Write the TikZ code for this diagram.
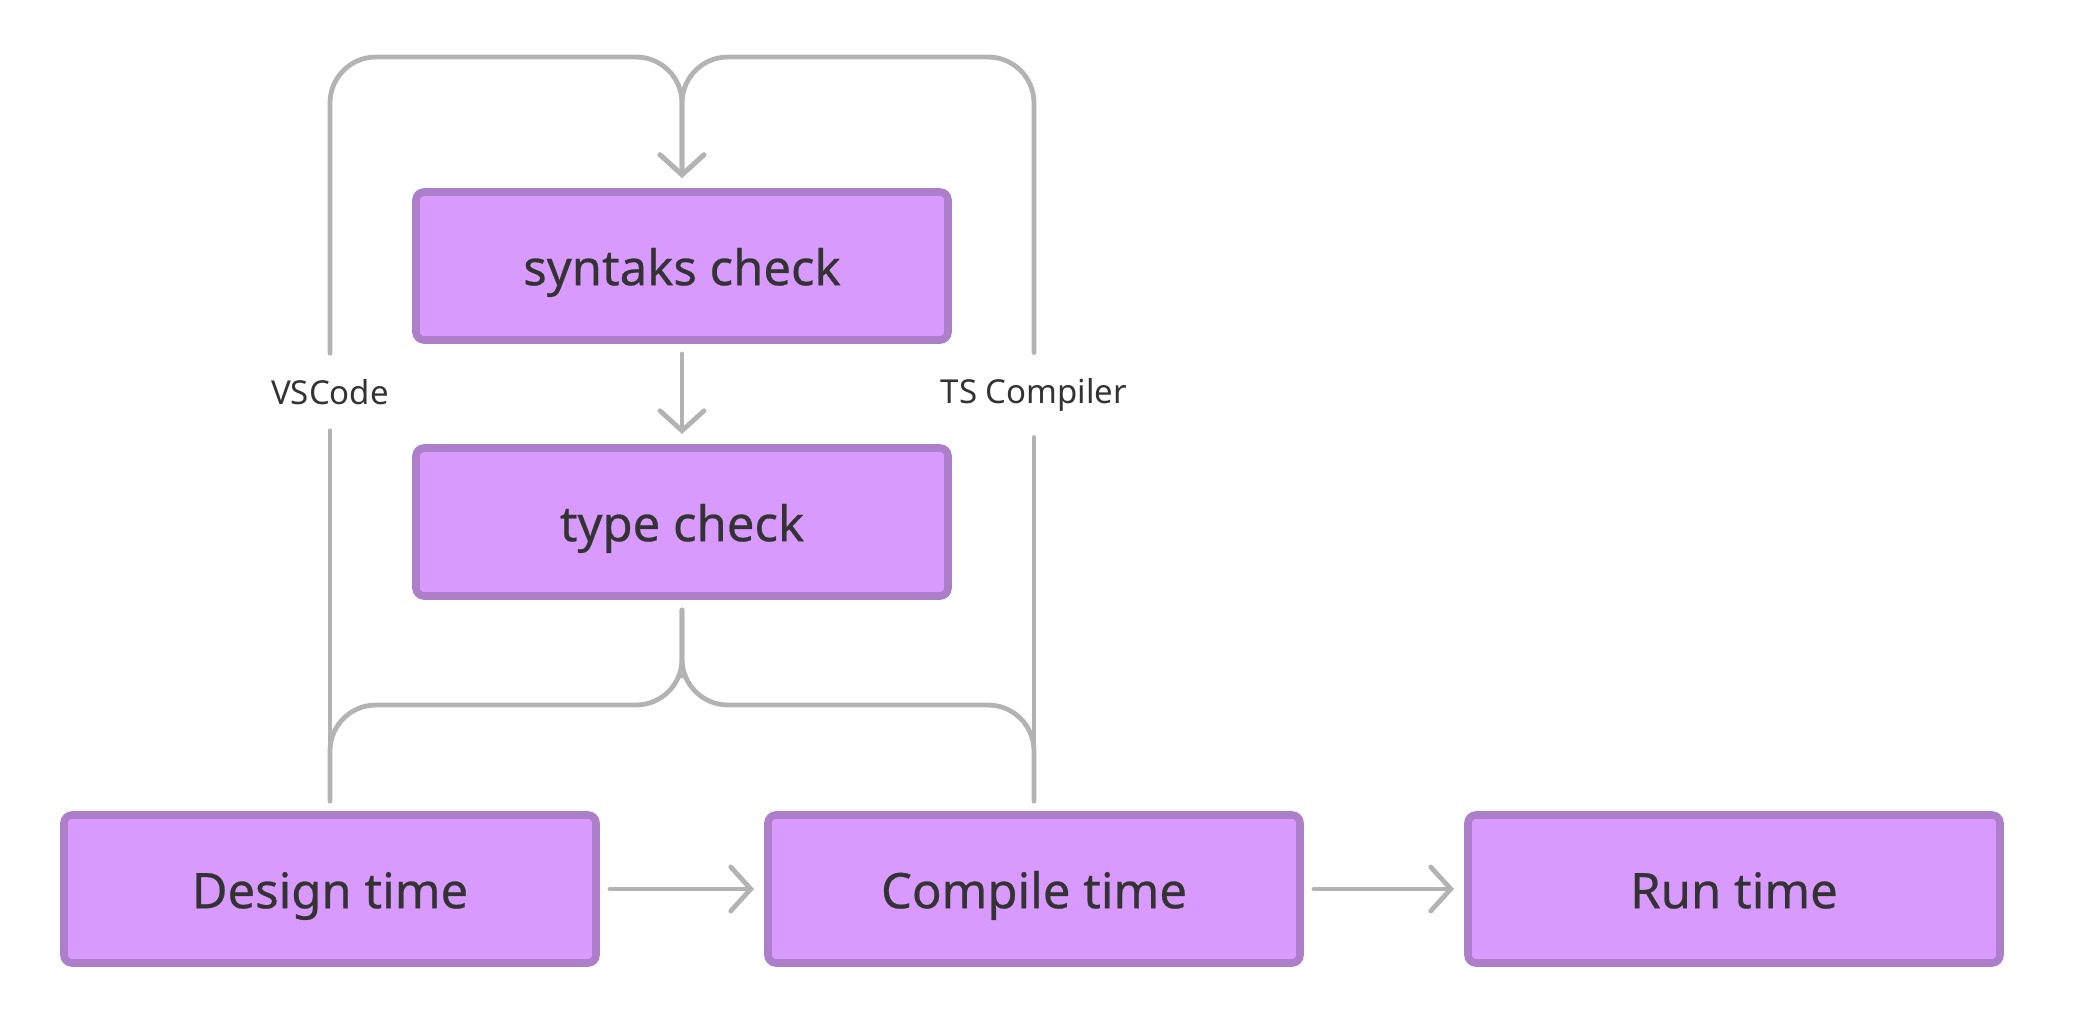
\documentclass[tikz,border=0pt]{standalone}
\usepackage{fontspec}
\setmainfont{Noto Sans}
\newfontfamily\stagefont[FakeBold=0.5]{Noto Sans}
\usetikzlibrary{arrows.meta}
\definecolor{boxfill}{HTML}{D99AFD}
\definecolor{boxline}{HTML}{AD7FCB}
\definecolor{wiregray}{HTML}{B3B3B3}
\definecolor{ink}{HTML}{333333}
\begin{document}
\begin{tikzpicture}[x=0.5pt, y=-0.5pt, >={Straight Barb[length=10pt, width=22pt, line cap=round]}, ->,
		stage/.style={draw=boxline, fill=boxfill, line width=3.8pt, rounded corners=4pt, minimum width=266pt, minimum height=74pt, outer sep=7pt, text=ink, text height=22pt, text depth=2.8pt, font=\stagefont\fontsize{24.5}{28}\selectfont},
		tool/.style={text=ink, inner sep=3pt, outer sep=10pt, font=\fontsize{16.5}{19}\selectfont},
		wire/.style={draw=wiregray, line width=2.4pt, line cap=round, rounded corners=23pt}]
		\useasboundingbox (0,0) rectangle (2078,1032);
		\node[stage] (syn) at (682, 266) {syntaks check};
		\node[stage] (typ) at (682, 522) {type check};
		\node[stage] (des) at (330, 889) {Design time};
		\node[stage] (com) at (1034, 889) {Compile time};
		\node[stage] (run) at (1734, 889) {Run time};
		\node[tool] (vsc) at (330, 392) {VSCode};
		\node[tool] (tsc) at (1034, 395) {TS Compiler};
		\coordinate (top) at (682, 57);
		\coordinate (low) at (682, 705);
		\draw[wire] (vsc.north) |- (top) -- (syn.north);
		\draw[wire] (tsc.north) |- (top) -- (syn.north);
		\draw[wire] (syn) -- (typ);
		\draw[wire, -] (typ.south) |- (low) -| (des.north);
		\draw[wire, -] (typ.south) |- (low) -| (com.north);
		\draw[wire, -] (vsc.south) -- (des.north);
		\draw[wire, -] (tsc.south) -- (com.north);
		\draw[wire] (des) -- (com);
		\draw[wire] (com) -- (run);
	\end{tikzpicture}
\end{document}
